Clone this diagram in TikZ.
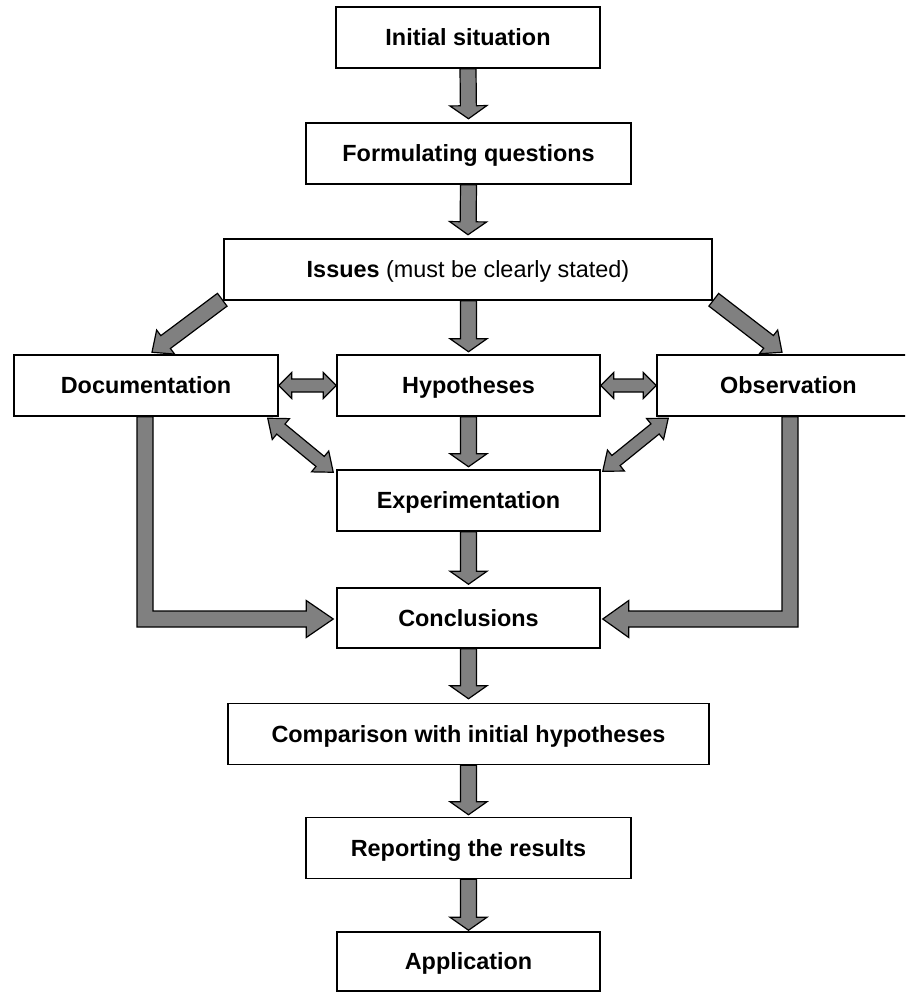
\documentclass[tikz,border=0pt]{standalone}
\usepackage{fontspec}
\setmainfont{Liberation Sans}
\usetikzlibrary{calc}
\pgfdeclarelayer{background}
\pgfsetlayers{background,main}
\definecolor{arrgray}{HTML}{808080}
\newcommand\blockarrow[5]{% #1 start, #2 tip, #3 half shaft, #4 half head, #5 head length
  \path (#1) coordinate (bA) (#2) coordinate (bB);
  \path ($(bB)!#5!(bA)$) coordinate (bH);
  \draw[blk] ($(bA)!#3!90:(bB)$) -- ($(bH)!#3!-90:(bA)$) -- ($(bH)!#4!-90:(bA)$) -- (bB)
    -- ($(bH)!#4!90:(bA)$) -- ($(bH)!#3!90:(bA)$) -- ($(bA)!#3!-90:(bB)$) -- cycle;
}
\newcommand\dblarrow[5]{% #1 tip, #2 tip, #3 half shaft, #4 half head, #5 head length
  \path (#1) coordinate (dA) (#2) coordinate (dB);
  \path ($(dA)!#5!(dB)$) coordinate (dH1) ($(dB)!#5!(dA)$) coordinate (dH2);
  \draw[blk] (dA) -- ($(dH1)!#4!90:(dB)$) -- ($(dH1)!#3!90:(dB)$) -- ($(dH2)!#3!-90:(dA)$)
    -- ($(dH2)!#4!-90:(dA)$) -- (dB) -- ($(dH2)!#4!90:(dA)$) -- ($(dH2)!#3!90:(dA)$)
    -- ($(dH1)!#3!-90:(dB)$) -- ($(dH1)!#4!-90:(dB)$) -- cycle;
}
\begin{document}
\begin{tikzpicture}[x=1pt,y=-1pt,
  box/.style={draw=black, line width=1.5pt, fill=white, rectangle, inner sep=0pt,
    minimum height=61pt, text height=16.75pt, text depth=0pt,
    font=\fontsize{23.4}{28}\selectfont\bfseries},
  blk/.style={fill=arrgray, draw=black, line width=1.2pt, line join=miter}]
\useasboundingbox (0,0) rectangle (905,992);
\clip (0,0) rectangle (905,992);

\node[box, minimum width=264pt] (init) at (468,37.5) {Initial situation};
\node[box, minimum width=325pt] (form) at (468.5,153.5) {Formulating questions};
\node[box, minimum width=488pt, font=\fontsize{23.4}{28}\selectfont] (issues) at (468,269.5) {\textbf{Issues} (must be clearly stated)};
\node[box, minimum width=264pt] (doc) at (146,385.5) {Documentation};
\node[box, minimum width=263pt] (hyp) at (468.5,385.5) {Hypotheses};
\node[box, minimum width=263pt] (obs) at (788.5,385.5) {Observation};
\node[box, minimum width=263pt] (exp) at (468.5,500.5) {Experimentation};
\node[box, minimum width=263pt, minimum height=60pt] (concl) at (468.5,618) {Conclusions};
\node[box, minimum width=481pt] (comp) at (468.5,734) {Comparison with initial hypotheses};
\node[box, minimum width=325pt] (report) at (468.5,848) {Reporting the results};
\node[box, minimum width=263pt, minimum height=59pt] (app) at (468.5,961.5) {Application};

\begin{pgfonlayer}{background}
\fill[white] (0,0) rectangle (905,992);
% vertical arrows
\blockarrow{init.south}{$(form.north)+(0,-3.5)$}{8pt}{18.5pt}{13pt}
\blockarrow{form.south}{$(issues.north)+(0,-3.5)$}{8pt}{18.5pt}{13pt}
\blockarrow{$(issues.south)+(0.5,0)$}{$(hyp.north)+(0,-2.5)$}{8pt}{18.5pt}{13pt}
\blockarrow{hyp.south}{$(exp.north)+(0,-2.5)$}{8pt}{18.5pt}{13pt}
\blockarrow{exp.south}{$(concl.north)+(0,-3)$}{8pt}{18.5pt}{13pt}
\blockarrow{concl.south}{$(comp.north)+(0,-4)$}{8pt}{18.5pt}{13pt}
\blockarrow{comp.south}{$(report.north)+(0,-2)$}{8pt}{18.5pt}{13pt}
\blockarrow{report.south}{$(app.north)+(0,-1)$}{8pt}{18.5pt}{13pt}

% diagonal arrows from Issues
\blockarrow{$(issues.south west)+(-1,-1)$}{$(doc.north)+(6,-2)$}{8pt}{15pt}{17pt}
\blockarrow{$(issues.south east)+(1,-1)$}{$(obs.north)+(-6.5,-2)$}{8pt}{15pt}{17pt}

% double arrows
\dblarrow{doc.east}{hyp.west}{6.5pt}{13pt}{13pt}
\dblarrow{hyp.east}{obs.west}{6.5pt}{13pt}{13pt}
\dblarrow{$(doc.south east)+(-11,1.5)$}{$(exp.north west)+(-3,3)$}{6.5pt}{13.5pt}{17pt}
\dblarrow{$(obs.south west)+(12,1.5)$}{$(exp.north east)+(2,2)$}{6.5pt}{13.5pt}{17pt}

% elbow arrows into Conclusions
\coordinate (ls) at ($(doc.south)+(-1,0)$);
\coordinate (lc) at (ls |- concl.west);
\coordinate (lt) at ($(concl.west)+(-3,1)$);
\draw[blk] ($(ls)+(-8,0)$) -- ($(lc)+(-8,9)$) -- ($(lt)+(-27,8)$) -- ($(lt)+(-27,18.5)$) -- (lt)
  -- ($(lt)+(-27,-18.5)$) -- ($(lt)+(-27,-8)$) -- ($(lc)+(8,-7)$) -- ($(ls)+(8,0)$) -- cycle;
\coordinate (rs) at ($(obs.south)+(1.5,0)$);
\coordinate (rc) at (rs |- concl.west);
\coordinate (rt) at ($(concl.east)+(2,1)$);
\draw[blk] ($(rs)+(8,0)$) -- ($(rc)+(8,9)$) -- ($(rt)+(26,8)$) -- ($(rt)+(26,18.5)$) -- (rt)
  -- ($(rt)+(26,-18.5)$) -- ($(rt)+(26,-8)$) -- ($(rc)+(-8,-7)$) -- ($(rs)+(-8,0)$) -- cycle;
\end{pgfonlayer}
\end{tikzpicture}
\end{document}
